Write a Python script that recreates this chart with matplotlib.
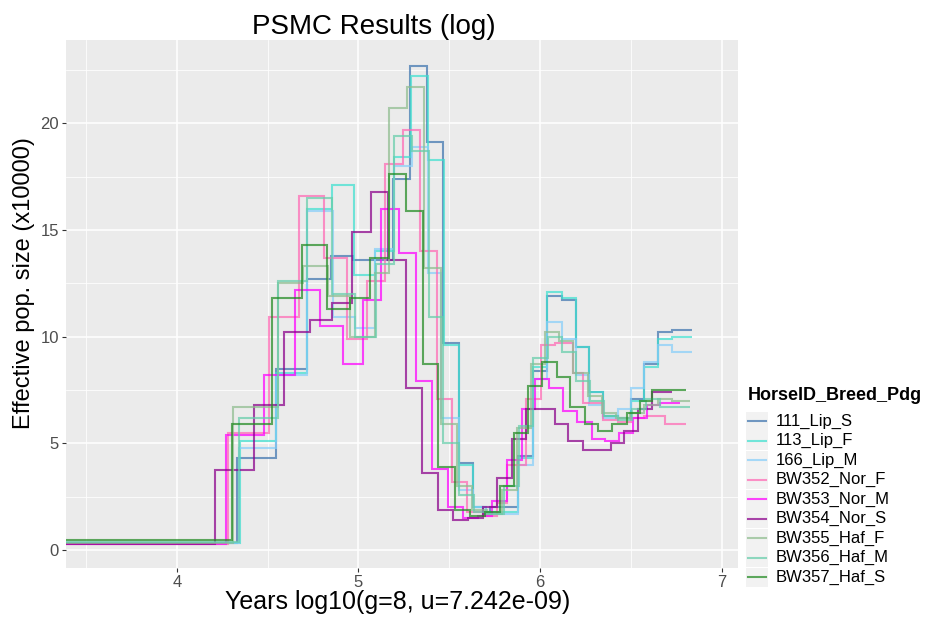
import matplotlib
matplotlib.use("Agg")
import matplotlib.pyplot as plt
from matplotlib.patches import Rectangle
from matplotlib.lines import Line2D

plt.rcParams['font.family'] = ['Liberation Sans', 'DejaVu Sans']

# step edges (log10 years) and Ne (x10000) for each horse
names = ["111_Lip_S", "113_Lip_F", "166_Lip_M", "BW352_Nor_F", "BW353_Nor_M",
         "BW354_Nor_S", "BW355_Haf_F", "BW356_Haf_M", "BW357_Haf_S"]
colors = ["#3E74AE", "#40E0D0", "#87CEFA", "#FF69B4", "#FF00FF",
          "#8B008B", "#8FBC8F", "#66CDAA", "#228B22"]

x_111 = [3.0, 4.330, 4.545, 4.715, 4.848, 4.969, 5.189, 5.282, 5.376, 5.464, 5.552, 5.629, 5.684,
         5.723, 5.877, 5.959, 6.036, 6.119, 6.196, 6.267, 6.345, 6.427, 6.499, 6.570, 6.647, 6.724, 6.834]
y_111 = [0.35, 4.3, 8.5, 12.7, 13.8, 13.6, 17.4, 22.7, 19.1, 9.7, 4.1, 2.0, 1.7,
         2.0, 4.4, 8.4, 11.9, 11.7, 9.5, 7.4, 6.3, 6.2, 7.1, 8.7, 10.2, 10.3]

x_113 = [3.0, 4.347, 4.545, 4.715, 4.853, 4.974, 5.090, 5.194, 5.288, 5.381, 5.469, 5.552, 5.629,
         5.700, 5.877, 5.959, 6.036, 6.119, 6.196, 6.267, 6.345, 6.427, 6.499, 6.570, 6.647, 6.724, 6.834]
y_113 = [0.35, 5.1, 8.3, 16.0, 17.1, 12.9, 14.0, 18.4, 22.2, 18.3, 9.6, 4.0, 2.0,
         1.8, 4.3, 8.6, 12.1, 11.8, 9.5, 7.4, 6.3, 6.2, 7.0, 8.6, 9.9, 10.0]

x_166 = [3.0, 4.341, 4.545, 4.715, 4.859, 4.980, 5.090, 5.194, 5.293, 5.381, 5.453, 5.552, 5.629,
         5.700, 5.877, 5.959, 6.036, 6.119, 6.196, 6.267, 6.345, 6.427, 6.499, 6.570, 6.647, 6.724, 6.834]
y_166 = [0.35, 4.8, 8.2, 15.9, 10.9, 10.4, 14.1, 18.0, 18.9, 13.0, 6.2, 2.8, 2.0,
         1.7, 4.0, 8.0, 10.7, 9.9, 8.2, 6.8, 6.2, 6.6, 7.6, 8.8, 9.6, 9.3]

x_352 = [3.0, 4.281, 4.506, 4.671, 4.809, 4.936, 5.046, 5.145, 5.244, 5.337, 5.431, 5.513, 5.596, 5.684,
         5.761, 5.816, 5.921, 6.003, 6.080, 6.179, 6.234, 6.345, 6.427, 6.499, 6.570, 6.686, 6.801]
y_352 = [0.3, 5.5, 10.9, 16.6, 13.7, 9.9, 12.6, 18.1, 19.7, 14.0, 7.1, 3.2, 1.8,
         1.6, 2.2, 4.0, 7.1, 9.6, 9.7, 8.3, 6.9, 6.1, 6.0, 6.2, 6.3, 5.9]

x_353 = [3.0, 4.270, 4.479, 4.649, 4.787, 4.914, 5.024, 5.123, 5.222, 5.315, 5.403, 5.491, 5.574, 5.657,
         5.734, 5.816, 5.899, 5.970, 6.047, 6.124, 6.201, 6.284, 6.356, 6.433, 6.510, 6.587, 6.658, 6.768]
y_353 = [0.3, 5.4, 8.2, 12.2, 10.5, 8.7, 11.7, 16.0, 13.9, 7.9, 3.8, 2.0, 1.5,
         1.6, 2.3, 4.2, 6.6, 8.0, 7.6, 6.5, 6.0, 5.2, 5.1, 5.5, 6.2, 6.8, 6.9]

x_354 = [3.0, 4.209, 4.424, 4.589, 4.732, 4.853, 4.963, 5.068, 5.161, 5.260, 5.348, 5.436, 5.519, 5.602,
         5.684, 5.761, 5.844, 5.921, 5.998, 6.080, 6.152, 6.234, 6.311, 6.389, 6.460, 6.539, 6.619, 6.724]
y_354 = [0.3, 3.75, 6.8, 10.2, 10.8, 11.6, 14.9, 16.8, 13.6, 7.6, 3.6, 1.9, 1.4,
         1.5, 2.0, 3.4, 5.2, 6.6, 6.6, 5.9, 5.1, 4.7, 4.7, 5.0, 5.6, 6.6, 7.4]

x_355 = [3.0, 4.308, 4.556, 4.693, 4.831, 4.952, 5.090, 5.167, 5.266, 5.359, 5.453, 5.541, 5.624, 5.706,
         5.789, 5.871, 5.948, 6.025, 6.107, 6.184, 6.262, 6.339, 6.416, 6.493, 6.570, 6.647, 6.724, 6.823]
y_355 = [0.35, 6.7, 12.5, 13.3, 11.9, 10.0, 13.0, 20.7, 21.7, 13.2, 5.9, 3.0, 1.9,
         1.7, 2.8, 5.7, 8.7, 10.2, 9.8, 8.3, 7.2, 6.4, 6.2, 6.4, 6.8, 7.1, 7.0]

x_356 = [3.0, 4.341, 4.556, 4.715, 4.853, 4.980, 5.095, 5.194, 5.293, 5.387, 5.464, 5.552, 5.635,
         5.717, 5.800, 5.882, 5.959, 6.042, 6.119, 6.196, 6.273, 6.350, 6.427, 6.504, 6.581, 6.658, 6.823]
y_356 = [0.4, 6.2, 12.6, 16.5, 12.0, 10.0, 13.4, 19.4, 18.7, 10.9, 5.0, 2.6, 1.8,
         1.7, 3.0, 5.8, 9.0, 10.0, 9.3, 7.9, 7.0, 6.3, 6.1, 6.6, 7.1, 6.7]

x_357 = [3.0, 4.303, 4.523, 4.688, 4.826, 4.952, 5.062, 5.167, 5.260, 5.354, 5.436, 5.530, 5.613,
         5.695, 5.778, 5.855, 5.932, 6.009, 6.091, 6.163, 6.245, 6.317, 6.394, 6.477, 6.548, 6.619, 6.806]
y_357 = [0.45, 5.9, 11.8, 14.3, 11.3, 11.8, 13.7, 17.6, 15.9, 8.7, 3.9, 1.9, 1.6,
         1.8, 3.0, 5.5, 7.7, 8.8, 8.1, 6.7, 5.9, 5.6, 5.9, 6.4, 7.0, 7.5]

edges = [x_111, x_113, x_166, x_352, x_353, x_354, x_355, x_356, x_357]
values = [y_111, y_113, y_166, y_352, y_353, y_354, y_355, y_356, y_357]

W, H = 929, 617
fig = plt.figure(figsize=(W / 100, H / 100), dpi=100)
ax = fig.add_axes([66 / W, 1 - 568 / H, (738 - 66) / W, (568 - 40) / H])
ax.set_facecolor("#EBEBEB")

for e, v, c in zip(edges, values, colors):
    ax.stairs(v, e, baseline=None, color=c, lw=1.5, alpha=0.72)

ax.set_xlim(3.39, 7.09)
ax.set_ylim(-0.84, 23.9)
ax.set_xticks([4, 5, 6, 7])
ax.set_yticks([0, 5, 10, 15, 20])
ax.set_xticks([3.5, 4.5, 5.5, 6.5], minor=True)
ax.set_yticks([2.5, 7.5, 12.5, 17.5, 22.5], minor=True)
ax.grid(which="major", color="white", lw=1.1)
ax.grid(which="minor", color="white", lw=0.55)
ax.set_axisbelow(True)
for s in ax.spines.values():
    s.set_visible(False)
ax.tick_params(which="major", length=3, color="#333333", labelsize=12, labelcolor="#4D4D4D", pad=2)
ax.tick_params(which="minor", length=0)

# titles placed like the reference
fig.text(374 / W, 1 - 27 / H, "PSMC Results (log)", fontsize=20, ha="center", va="center")
fig.text(398 / W, 1 - 602 / H, "Years log10(g=8, u=7.242e-09)", fontsize=18, ha="center", va="center")
fig.text(24 / W, 1 - 283 / H, "Effective pop. size (x10000)", fontsize=17, ha="center", va="center",
         rotation=90)

# legend drawn in the ggplot style
fig.text(748 / W, 1 - 396 / H, "HorseID_Breed_Pdg", fontsize=13, fontweight="bold", va="center", ha="left")
row0, dy = 421, 19.5
for i, (n, c) in enumerate(zip(names, colors)):
    yc = 1 - (row0 + i * dy) / H
    fig.add_artist(Rectangle((746 / W, yc - 9.5 / H), 22 / W, 19 / H, transform=fig.transFigure,
                             facecolor="#F2F2F2", edgecolor="none"))
    fig.add_artist(Line2D([748 / W, 766 / W], [yc, yc], transform=fig.transFigure,
                          color=c, lw=1.5, alpha=0.72))
    fig.text(776 / W, yc, n, fontsize=12, va="center", ha="left", color="black")

fig.savefig("out.png", dpi=100)
